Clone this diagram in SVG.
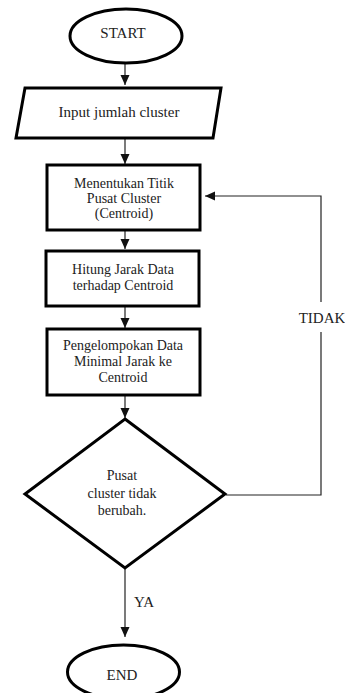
<svg xmlns="http://www.w3.org/2000/svg" width="345" height="693" viewBox="0 0 345 693">
<style>
.n{fill:#fff;stroke:#000;stroke-width:3}
.t{font-family:'Liberation Serif',serif;font-size:14px;fill:#222;text-anchor:middle}
.b{font-size:15px}
.c{fill:none;stroke:#222;stroke-width:1.2}
</style>
<defs>
<marker id="ah" markerUnits="userSpaceOnUse" markerWidth="10" markerHeight="10" viewBox="0 0 10 10" refX="10" refY="5" orient="auto">
<path d="M0,0.5 L10,5 L0,9.5 Z" fill="#111"/>
</marker>
</defs>
<rect width="345" height="693" fill="#fff"/>
<g id="connectors">
<line class="c" x1="125" y1="64" x2="125" y2="85" marker-end="url(#ah)"/>
<line class="c" x1="125" y1="139" x2="125" y2="164" marker-end="url(#ah)"/>
<line class="c" x1="125" y1="231" x2="125" y2="249" marker-end="url(#ah)"/>
<line class="c" x1="125" y1="307" x2="125" y2="328" marker-end="url(#ah)"/>
<line class="c" x1="125" y1="396" x2="125" y2="418" marker-end="url(#ah)"/>
<line class="c" x1="125" y1="569" x2="125" y2="637" marker-end="url(#ah)"/>
<path class="c" d="M226,495 H321 V332"/>
<path class="c" d="M321,302 V196 H205" marker-end="url(#ah)"/>
<text class="t b" x="322" y="323">TIDAK</text>
<text class="t b" x="144" y="607">YA</text>
</g>
<g id="start">
<ellipse class="n" cx="126" cy="36" rx="56" ry="27"/>
<text class="t b" x="123" y="38">START</text>
</g>
<g id="input">
<polygon class="n" points="25,88 221,88 213,138 16,138"/>
<text class="t b" x="119" y="117">Input jumlah cluster</text>
</g>
<g id="centroid">
<rect class="n" x="47" y="165" width="153" height="65"/>
<text class="t" x="124" y="188">Menentukan Titik</text>
<text class="t" x="124" y="203">Pusat Cluster</text>
<text class="t" x="124" y="218">(Centroid)</text>
</g>
<g id="jarak">
<rect class="n" x="46" y="251" width="153" height="55"/>
<text class="t" x="123" y="274">Hitung Jarak Data</text>
<text class="t" x="123" y="290">terhadap Centroid</text>
</g>
<g id="kelompok">
<rect class="n" x="47" y="329" width="153" height="66"/>
<text class="t" x="123" y="350">Pengelompokan Data</text>
<text class="t" x="123" y="366">Minimal Jarak ke</text>
<text class="t" x="123" y="382">Centroid</text>
</g>
<g id="decision">
<polygon class="n" points="125,419 225,494 125,568 25,494"/>
<text class="t" x="122" y="480">Pusat</text>
<text class="t" x="122" y="498">cluster tidak</text>
<text class="t" x="122" y="515">berubah.</text>
</g>
<g id="end">
<ellipse class="n" cx="123.5" cy="672" rx="56" ry="27"/>
<text class="t b" x="122" y="680">END</text>
</g>
</svg>
